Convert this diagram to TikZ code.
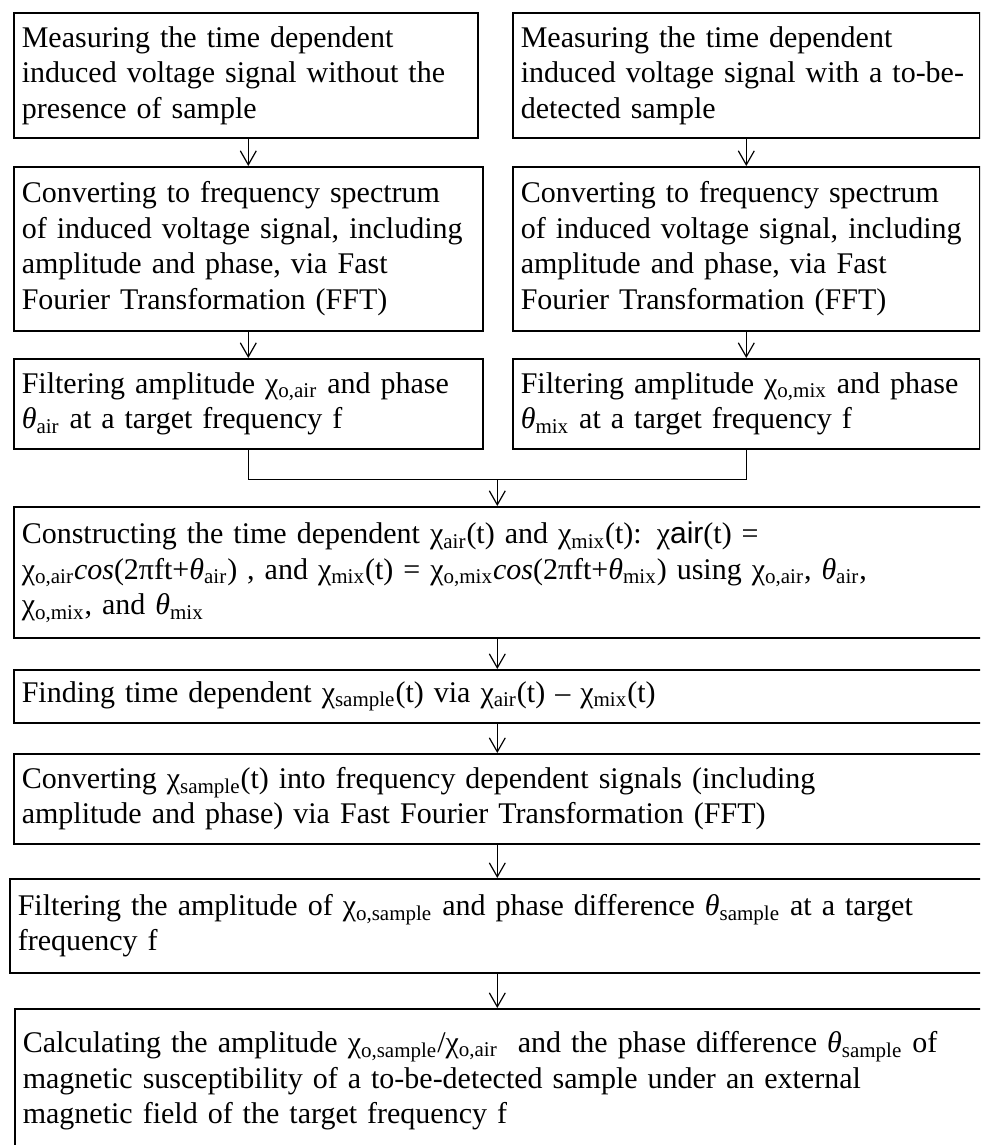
\documentclass[tikz,border=0pt]{standalone}
\usepackage{fontspec}
\setmainfont{Liberation Serif}
\setsansfont{Liberation Sans}
\usetikzlibrary{arrows.meta,calc}

\newcommand{\ch}[1]{χ\textsubscript{#1}}
\newcommand{\thsub}[1]{\textit{θ}\textsubscript{#1}}
\hyphenpenalty=10000

\begin{document}
\begin{tikzpicture}[x=0.5pt,y=-0.5pt,
  box/.style={draw, line width=0.8pt, anchor=north west, align=left,
    inner xsep=4pt, inner ysep=3pt, font=\fontsize{15}{17.75}\selectfont},
  flow/.style={-{Straight Barb[length=7pt,width=8pt]}, line width=0.6pt}]
\useasboundingbox (0,0) rectangle (980,1145);
\clip (0,0) rectangle (980,1145);

% two columns
\node[box, text width=224pt, minimum height=62.5pt] (L1) at (13,12)
  {Measuring the time dependent\\ induced voltage signal without the\\ presence of sample};
\node[box, text width=225.5pt, minimum height=62.5pt] (R1) at (512,12)
  {Measuring the time dependent\\ induced voltage signal with a to-be-\\ detected sample};
\node[box, text width=226.5pt, minimum height=82pt] (L2) at (13,166)
  {Converting to frequency spectrum\\ of induced voltage signal, including\\ amplitude and phase, via Fast\\ Fourier Transformation (FFT)};
\node[box, text width=225.5pt, minimum height=82pt] (R2) at (512,166)
  {Converting to frequency spectrum\\ of induced voltage signal, including\\ amplitude and phase, via Fast\\ Fourier Transformation (FFT)};
\node[box, text width=226.5pt, minimum height=45pt] (L3) at (13,358)
  {Filtering amplitude \ch{o,air} and phase\\ \thsub{air} at a target frequency f};
\node[box, text width=225.5pt, minimum height=45pt] (R3) at (512,358)
  {Filtering amplitude \ch{o,mix} and phase\\ \thsub{mix} at a target frequency f};

% one column
\node[box, text width=480.5pt, minimum height=65.5pt] (C1) at (13,506)
  {Constructing the time dependent \ch{air}(t) and \ch{mix}(t): χ\textsf{air}(t) =\\
   \ch{o,air}\textit{cos}(2πft+\thsub{air}) , and \ch{mix}(t) = \ch{o,mix}\textit{cos}(2πft+\thsub{mix}) using \ch{o,air}, \thsub{air},\\
   \ch{o,mix}, and \thsub{mix}};
\node[box, text width=480.5pt, minimum height=26.5pt] (C2) at (13,669)
  {Finding time dependent \ch{sample}(t) via \ch{air}(t) – \ch{mix}(t)};
\node[box, text width=480.5pt, minimum height=45pt] (C3) at (13,753)
  {Converting \ch{sample}(t) into frequency dependent signals (including\\ amplitude and phase) via Fast Fourier Transformation (FFT)};
\node[box, text width=482.5pt, minimum height=47pt] (C4) at (9,878)
  {Filtering the amplitude of \ch{o,sample} and phase difference \thsub{sample} at a target\\ frequency f};
\node[box, text width=480pt, minimum height=72pt] (C5) at (14,1008)
  {Calculating the amplitude \ch{o,sample}/\ch{o,air}\ \ and the phase difference \thsub{sample} of\\ magnetic susceptibility of a to-be-detected sample under an external\\ magnetic field of the target frequency f};

% arrows
\draw[flow] (L2.north |- L1.south) -- (L2.north);
\draw[flow] (R1.south) -- (R1.south |- R2.north);
\draw[flow] (L2.south) -- (L2.south |- L3.north);
\draw[flow] (R2.south) -- (R2.south |- R3.north);
\draw[line width=0.6pt] (L3.south) -- ++(0,30) -| (R3.south);
\coordinate (join) at ($(L3.south)!0.5!(R3.south)+(0,30)$);
\draw[flow] (join) -- (join |- C1.north);
\draw[flow] (C1.south -| join) -- (join |- C2.north);
\draw[flow] (C2.south -| join) -- (join |- C3.north);
\draw[flow] (C3.south -| join) -- (join |- C4.north);
\draw[flow] (C4.south -| join) -- (join |- C5.north);
\end{tikzpicture}
\end{document}
